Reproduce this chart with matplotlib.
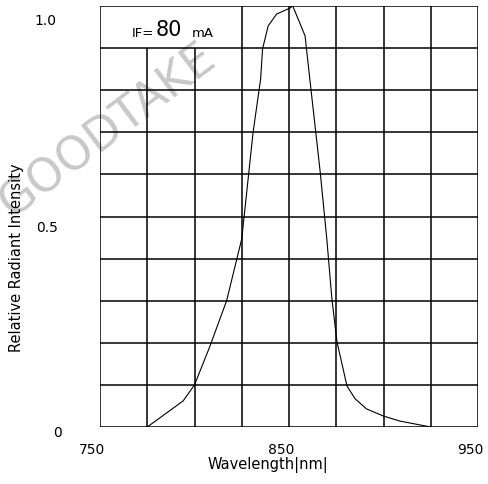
import matplotlib
matplotlib.use("Agg")
import matplotlib.pyplot as plt
import matplotlib.transforms as mtransforms

# spectrum
wavelength = [775, 794, 800, 808, 817, 825, 831, 835, 836, 839, 843.5, 850.5, 852,
              858.5, 861, 866.5, 870, 872.7, 875.4, 880.7, 885, 891, 900, 908.7, 925]
intensity = [0.0, 0.062, 0.10, 0.19, 0.30, 0.447, 0.70, 0.827, 0.898, 0.953, 0.981, 0.995, 1.0,
             0.929, 0.827, 0.606, 0.447, 0.304, 0.202, 0.097, 0.067, 0.043, 0.026, 0.014, 0.0]

x_grid = [750, 775, 800, 825, 850, 875, 900, 925, 950]
y_grid = [0, 0.1, 0.2, 0.3, 0.4, 0.5, 0.6, 0.7, 0.8, 0.9, 1.0]
x_labels = ["750", "850", "950"]
y_labels = ["1.0", "0.5", "0"]

plt.rcParams['font.family'] = ['DejaVu Sans']

fig = plt.figure(figsize=(4.88, 4.85), dpi=100)
ax = fig.add_axes([100/488, 57/485, 378/488, 421/485])
ax.set_xlim(750, 950)
ax.set_ylim(0, 1.0)
for s in ax.spines.values():
    s.set_visible(False)
ax.set_xticks([])
ax.set_yticks([])

# grid, top-left cell row left open for the IF label
for xv in x_grid:
    top = 0.9 if xv in (775, 800) else 1.0
    ax.vlines(xv, 0, top, color='black', lw=1.1, zorder=2)
for yv in y_grid:
    ax.hlines(yv, 750, 950, color='black', lw=1.1, zorder=2)

ax.plot(wavelength, intensity, color='black', lw=0.8, zorder=3)

# watermark, under everything
ax.text(108/488, 1 - 131/485, "GOODTAKE", fontsize=33, color='#c8c8c8', rotation=37,
        ha='center', va='center', transform=fig.transFigure, clip_on=False, zorder=0)

# IF=80mA label
lab = ax.annotate("IF=", xy=(132, 485-37), xycoords='figure pixels',
                  fontsize=9.5, va='baseline', ha='left', zorder=4)
big = ax.annotate("80", xy=(1, 0), xycoords=lab, xytext=(1, 0), textcoords='offset points',
                  fontsize=15, va='bottom', ha='left', zorder=4)
ax.annotate("mA", xy=(1, 0), xycoords=big, xytext=(7, 0), textcoords='offset points',
            fontsize=9.5, va='bottom', ha='left', zorder=4)

# tick labels, set slightly off the grid like the original
shift = mtransforms.ScaledTranslation(-8/100, -22/100, fig.dpi_scale_trans)
for lbl in x_labels:
    ax.text(float(lbl), 0, lbl, transform=ax.transData + shift,
            ha='center', va='center', fontsize=10)
ypos = {"1.0": (45, 21), "0.5": (47, 228), "0": (58, 433)}
for lbl in y_labels:
    px, py = ypos[lbl]
    fig.text(px/488, 1 - py/485, lbl, ha='center', va='center', fontsize=10)

fig.text(268/488, 1 - 465/485, "Wavelength|nm|", ha='center', va='center', fontsize=10.5)
fig.text(17/488, 1 - 258/485, "Relative Radiant Intensity", ha='center', va='center',
         rotation=90, fontsize=10.5)

fig.savefig("out.png", dpi=100)
